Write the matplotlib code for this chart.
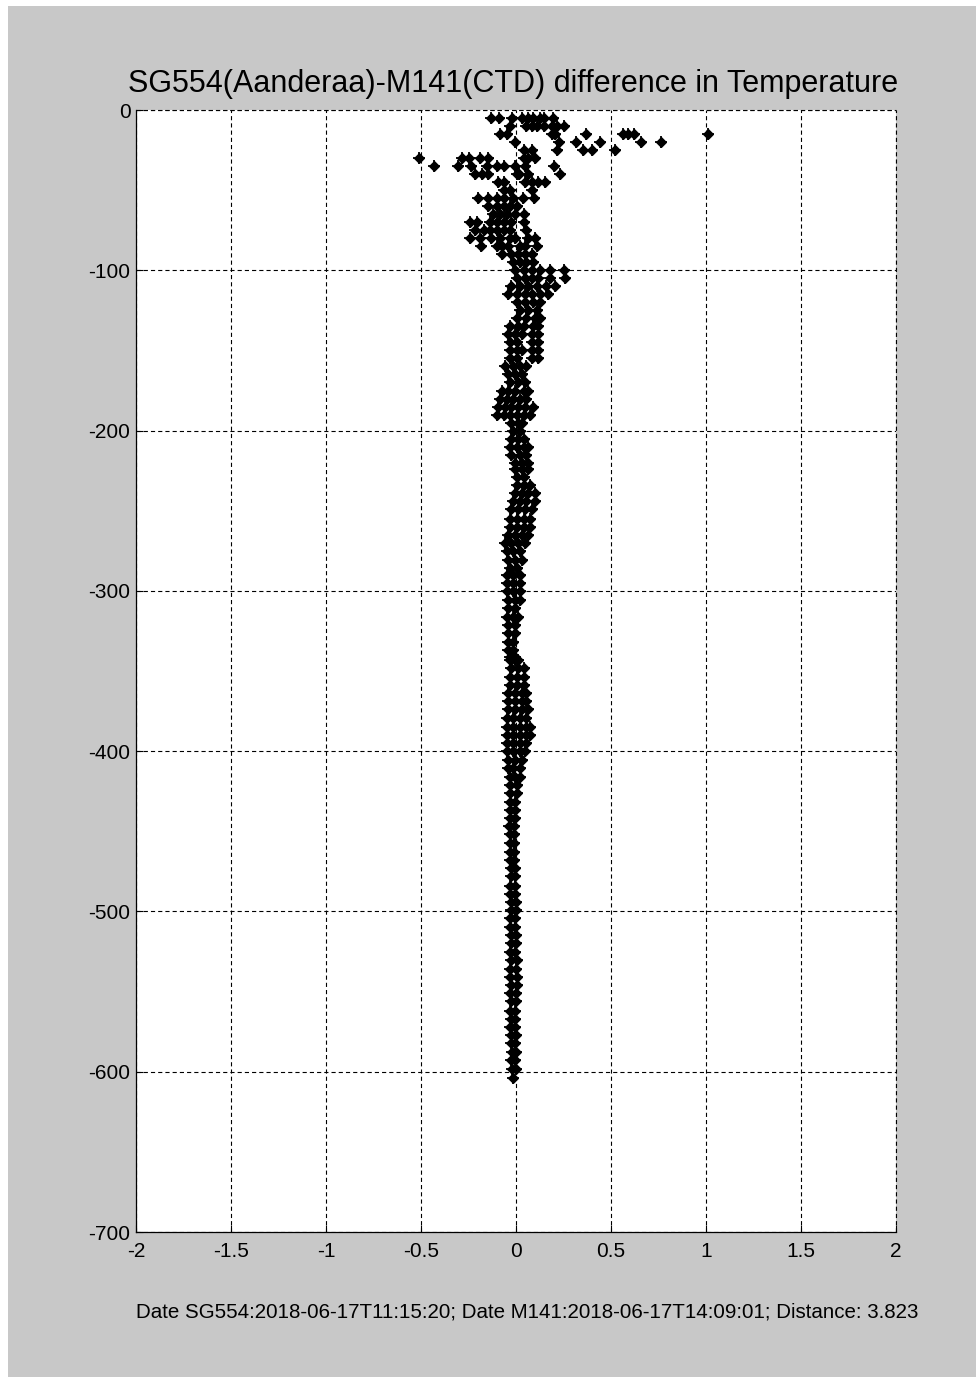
import matplotlib
matplotlib.use("Agg")
import matplotlib.pyplot as plt
from matplotlib.patches import Rectangle

plt.rcParams['font.family'] = ['Liberation Sans', 'DejaVu Sans']
plt.rcParams['lines.scale_dashes'] = False

# ---- data: depth rows (m) and temperature differences at each row ----
depth_upper = [-5, -10, -15, -20, -25, -30, -35, -40, -45, -50,
               -55, -60, -65, -70, -75, -80, -85, -90, -95, -100]
dT_upper = [
    [-0.13, -0.09, -0.02, 0.03, 0.065, 0.09, 0.125, 0.145, 0.195],
    [-0.03, 0.055, 0.085, 0.11, 0.145, 0.19, 0.215, 0.25],
    [-0.085, -0.05, 0.19, 0.205, 0.37, 0.565, 0.59, 0.62, 1.01],
    [-0.005, 0.225, 0.315, 0.44, 0.66, 0.765],
    [0.04, 0.085, 0.215, 0.355, 0.40, 0.52],
    [-0.51, -0.285, -0.25, -0.19, -0.15, 0.04, 0.065, 0.10],
    [-0.43, -0.305, -0.235, -0.155, -0.10, -0.065, -0.005, 0.045, 0.20],
    [-0.215, -0.18, -0.145, 0.005, 0.015, 0.065, 0.23],
    [-0.095, -0.065, 0.045, 0.085, 0.115, 0.155],
    [-0.065, -0.03, 0.085],
    [-0.20, -0.145, -0.10, -0.065, -0.015, 0.035, 0.095],
    [-0.145, -0.10, -0.065, -0.03, 0.005],
    [-0.12, -0.085, -0.05, -0.005, 0.04],
    [-0.24, -0.205, -0.135, -0.10, -0.065, -0.025, 0.04],
    [-0.215, -0.17, -0.135, -0.10, -0.065, -0.03, 0.055],
    [-0.24, -0.19, -0.13, -0.085, -0.03, -0.005, 0.065, 0.10],
    [-0.185, -0.10, -0.075, -0.04, 0.02, 0.045, 0.11],
    [-0.075, -0.025, 0.01, 0.045, 0.085],
    [-0.015, 0.02, 0.055, 0.09],
    [-0.005, 0.04, 0.085, 0.125, 0.18, 0.255],
]

depth_mid1 = [-105, -110, -115, -120, -125, -130, -135, -140, -145, -150,
              -155, -160, -165, -170, -175, -180, -185, -190, -195, -200,
              -205, -210, -215, -220]
dT_mid1 = [
    [0.005, 0.045, 0.085, 0.115, 0.18, 0.26],
    [-0.025, 0.02, 0.065, 0.11, 0.16, 0.205],
    [-0.04, 0.005, 0.045, 0.085, 0.125, 0.17],
    [0.005, 0.045, 0.09, 0.125],
    [0.02, 0.065, 0.11],
    [0.005, 0.055, 0.10, 0.125],
    [-0.03, 0.01, 0.04, 0.09, 0.115],
    [-0.04, -0.005, 0.03, 0.085, 0.115],
    [-0.03, 0.005, 0.085, 0.115],
    [-0.03, 0.005, 0.03, 0.085, 0.115],
    [-0.03, 0.005, 0.085, 0.115],
    [-0.06, -0.015, 0.02, 0.055],
    [-0.04, -0.005, 0.03],
    [-0.03, 0.01, 0.045],
    [-0.075, -0.04, -0.005, 0.04, 0.065],
    [-0.085, -0.05, -0.015, 0.02, 0.055],
    [-0.095, -0.06, -0.025, 0.01, 0.045, 0.09],
    [-0.10, -0.065, -0.03, 0.005, 0.04, 0.075],
    [-0.025, 0.01, 0.03],
    [-0.015, 0.02],
    [-0.025, 0.01, 0.04],
    [-0.03, 0.005, 0.04, 0.065],
    [-0.025, 0.02, 0.055],
    [-0.005, 0.03, 0.065],
]

depth_mid2 = [-224, -229, -234, -239, -244, -249, -255, -260, -265, -270,
              -275, -281, -286, -290, -295, -300, -306, -311, -316, -321,
              -326, -332, -337, -341, -343, -348, -353.5, -358.7, -364,
              -369, -374, -379.5, -384.7, -390, -395, -400, -405.5,
              -410.7, -416, -421, -426, -431.5, -436.7, -442, -447, -452,
              -457.5, -463, -468]
dT_mid2 = [
    [-0.005, 0.03, 0.065],
    [0.005, 0.04],
    [0.005, 0.04, 0.075],
    [-0.005, 0.03, 0.065, 0.10],
    [-0.015, 0.02, 0.055, 0.10],
    [-0.025, 0.01, 0.045, 0.085],
    [-0.03, 0.005, 0.04, 0.075],
    [-0.03, 0.005, 0.04, 0.075],
    [-0.04, -0.005, 0.03, 0.065],
    [-0.06, -0.025, 0.01, 0.045],
    [-0.05, -0.015, 0.02],
    [-0.04, -0.005, 0.03],
    [-0.03, 0.005],
    [-0.05, -0.015, 0.02],
    [-0.05, -0.015, 0.02],
    [-0.05, -0.015, 0.02],
    [-0.04, -0.005, 0.02],
    [-0.04, -0.005],
    [-0.05, -0.015, 0.01],
    [-0.04, -0.005],
    [-0.04, -0.005],
    [-0.04, -0.015],
    [-0.04, -0.015],
    [-0.03, -0.005],
    [-0.03, -0.005, 0.01],
    [-0.025, 0.01, 0.04],
    [-0.03, 0.005, 0.04],
    [-0.03, 0.005, 0.04],
    [-0.04, -0.005, 0.03, 0.055],
    [-0.04, -0.005, 0.03, 0.055],
    [-0.04, -0.005, 0.03, 0.065],
    [-0.05, -0.015, 0.02, 0.055],
    [-0.05, -0.015, 0.02, 0.055, 0.075],
    [-0.05, -0.015, 0.02, 0.055, 0.075],
    [-0.05, -0.015, 0.02, 0.055],
    [-0.05, -0.015, 0.02, 0.045],
    [-0.04, -0.005, 0.03],
    [-0.04, -0.015, 0.02],
    [-0.03, -0.005, 0.02],
    [-0.03, 0.005],
    [-0.03, 0.005],
    [-0.03, -0.005],
    [-0.03, -0.005],
    [-0.03, -0.005],
    [-0.035, -0.01],
    [-0.03, -0.01],
    [-0.03, -0.01],
    [-0.03, -0.01],
    [-0.03, -0.01],
]

depth_deep = [-473, -478, -484, -489, -494, -499, -504, -510, -515, -520,
              -525, -530, -536, -541, -546, -551, -556, -562, -567, -572,
              -577, -582, -588, -593, -598, -604]
dT_deep = [
    [-0.025, -0.005], [-0.025, -0.005], [-0.03, -0.005], [-0.03, -0.005],
    [-0.025, 0.0], [-0.025, 0.0], [-0.03, -0.005], [-0.03, -0.005],
    [-0.025, 0.0], [-0.025, 0.0], [-0.03, -0.005], [-0.025, 0.005],
    [-0.03, 0.0], [-0.03, 0.005], [-0.025, 0.005], [-0.03, 0.0],
    [-0.025, 0.0], [-0.03, -0.005], [-0.025, -0.005], [-0.03, -0.005],
    [-0.025, 0.0], [-0.025, -0.005], [-0.02, 0.0], [-0.025, -0.005],
    [-0.02, 0.0], [-0.015],
]

x_ticks = [-2, -1.5, -1, -0.5, 0, 0.5, 1, 1.5, 2]
x_tick_labels = ['-2', '-1.5', '-1', '-0.5', '0', '0.5', '1', '1.5', '2']
y_ticks = [-700, -600, -500, -400, -300, -200, -100, 0]
y_tick_labels = ['-700', '-600', '-500', '-400', '-300', '-200', '-100', '0']

title_text = 'SG554(Aanderaa)-M141(CTD) difference in Temperature'
note_text = ('Date SG554:2018-06-17T11:15:20; Date M141:2018-06-17T14:09:01; '
             'Distance: 3.823')

# ---- figure ----
W, H = 976, 1377
fig = plt.figure(figsize=(W / 100, H / 100), dpi=100, facecolor='#c8c8c8')
# thin white strips at the left and top edges of the reference image
fig.patches.append(Rectangle((0, 0), 8 / W, 1, transform=fig.transFigure,
                             facecolor='white', edgecolor='none'))
fig.patches.append(Rectangle((0, 1 - 6 / H), 1, 6 / H,
                             transform=fig.transFigure,
                             facecolor='white', edgecolor='none'))

ax = fig.add_axes([136 / W, 145 / H, 760 / W, 1122 / H])
ax.set_zorder(2)
ax.set_facecolor('white')

xs, ys = [], []
for depths, vals in [(depth_upper, dT_upper), (depth_mid1, dT_mid1),
                     (depth_mid2, dT_mid2), (depth_deep, dT_deep)]:
    for d, row in zip(depths, vals):
        for v in row:
            xs.append(v)
            ys.append(d)
# MATLAB-like point marker: small filled diamond with a cross through it
ax.plot(xs, ys, linestyle='none', marker='D', markersize=4.6,
        markerfacecolor='black', markeredgecolor='black',
        markeredgewidth=0.8, zorder=3)
ax.plot(xs, ys, linestyle='none', marker='+', markersize=8.0,
        markeredgecolor='black', markeredgewidth=1.3, zorder=3)

ax.set_xlim(-2, 2)
ax.set_ylim(-700, 0)
ax.set_xticks(x_ticks)
ax.set_xticklabels(x_tick_labels)
ax.set_yticks(y_ticks)
ax.set_yticklabels(y_tick_labels)

dash = (0, (3.0, 2.2))
ax.grid(True, color='black', linewidth=0.8, linestyle=dash)
ax.axhline(0, color='black', linewidth=0.8, linestyle=dash, clip_on=False)
ax.axvline(2, color='black', linewidth=0.8, linestyle=dash, clip_on=False)

for s in ['top', 'right']:
    ax.spines[s].set_visible(False)
for s in ['left', 'bottom']:
    ax.spines[s].set_linewidth(0.9)
    ax.spines[s].set_color('black')

ax.tick_params(axis='both', direction='in', length=5, width=0.8,
               labelsize=15, colors='black')
ax.tick_params(axis='x', pad=7)
ax.tick_params(axis='y', pad=4)

fig.text(513 / W, 1 - 84 / H, title_text, ha='center', va='center',
         fontsize=22, color='black')
fig.text(136 / W, 1 - 1312 / H, note_text, ha='left', va='center',
         fontsize=14.8, color='black')

fig.savefig('out.png', dpi=100, facecolor=fig.get_facecolor())
